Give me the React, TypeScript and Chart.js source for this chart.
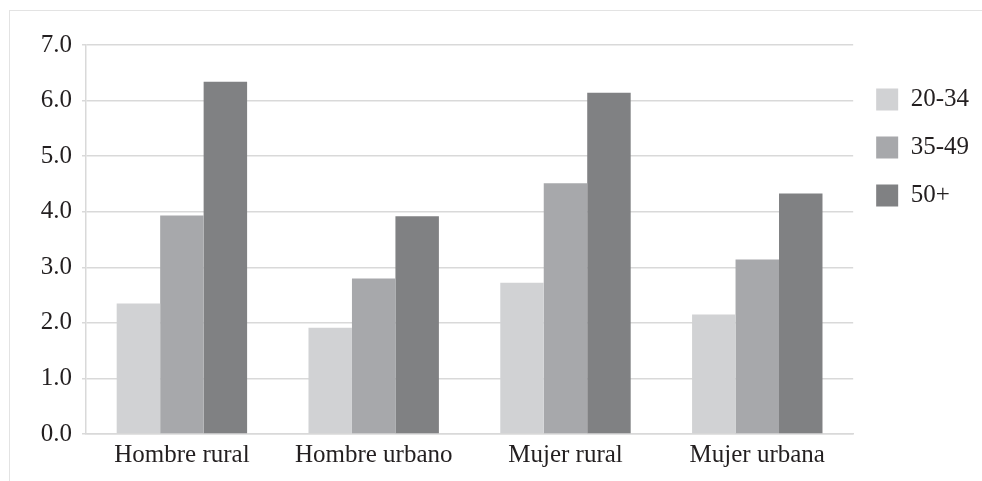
import React, { useEffect, useRef } from "react";
import { Chart, registerables } from "chart.js";

Chart.register(...registerables);

const categories = ["Hombre rural", "Hombre urbano", "Mujer rural", "Mujer urbana"];
const seriesNames = ["20-34", "35-49", "50+"];
const values2034 = [2.35, 1.91, 2.72, 2.15];
const values3549 = [3.93, 2.8, 4.51, 3.14];
const values50 = [6.34, 3.92, 6.14, 4.33];
const seriesColors = ["#d1d2d4", "#a7a8ab", "#808183"];
const yTicks = [0, 1, 2, 3, 4, 5, 6, 7];

export default function App() {
  const ref = useRef<HTMLCanvasElement | null>(null);
  useEffect(() => {
    if (!ref.current) return;
    const font = { family: "'Liberation Serif', serif", size: 25 };
    const chart = new Chart(ref.current, {
      type: "bar",
      data: {
        labels: categories,
        datasets: [values2034, values3549, values50].map((d, i) => ({
          label: seriesNames[i],
          data: d,
          backgroundColor: seriesColors[i],
          borderWidth: 0,
          categoryPercentage: 0.68,
          barPercentage: 1.0,
        })),
      },
      options: {
        animation: false,
        responsive: false,
        layout: { padding: { top: 34, right: 3, bottom: 5, left: 0 } },
        plugins: {
          tooltip: { enabled: false },
          legend: {
            position: "right",
            align: "start",
            title: { display: true, text: " ", font: { size: 10, lineHeight: 1 }, padding: { top: 9, bottom: 0 } },
            labels: {
              boxWidth: 22,
              boxHeight: 22,
              padding: 23,
              color: "#231f20",
              font,
            },
          },
        },
        scales: {
          x: {
            grid: { display: false, drawTicks: false },
            border: { display: true, color: "#d9d9d9", width: 1.5 },
            ticks: { color: "#231f20", font, padding: 6 },
          },
          y: {
            min: 0,
            max: 7,
            afterBuildTicks: (s: any) => {
              s.ticks = yTicks.map((v) => ({ value: v }));
            },
            afterFit: (s: any) => {
              s.width = 76;
            },
            grid: { color: "#d9d9d9", lineWidth: 1.5, tickLength: 4 },
            border: { display: true, color: "#d9d9d9", width: 1.5 },
            ticks: {
              color: "#231f20",
              font,
              padding: 10,
              callback: (v: any) => Number(v).toFixed(1),
            },
          },
        },
      },
    });
    return () => chart.destroy();
  }, []);
  return (
    <div
      style={{
        position: "absolute",
        left: 9,
        top: 10,
        width: 973,
        height: 471,
        borderTop: "1px solid #e3e3e3",
        borderLeft: "1px solid #e3e3e3",
        background: "#fff",
      }}
    >
      <canvas ref={ref} width={972} height={470} style={{ display: "block" }} />
    </div>
  );
}
